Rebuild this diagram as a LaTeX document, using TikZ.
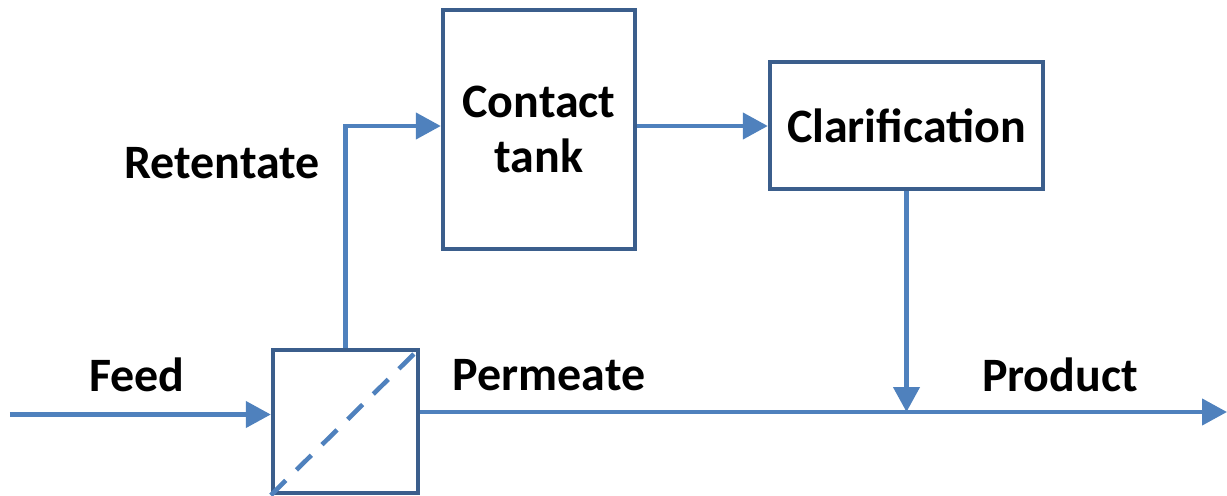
\documentclass[tikz,border=0pt]{standalone}
\usepackage{fontspec}
\setmainfont{Carlito}
\usepackage{tikz}
\usetikzlibrary{arrows.meta,positioning}

\definecolor{flowblue}{HTML}{4F81BD}
\definecolor{boxblue}{HTML}{3B5E8C}

\tikzset{
  unit/.style={draw=boxblue, line width=2.5pt, fill=white, align=center, inner sep=0pt},
  flow/.style={draw=flowblue, line width=2.5pt, -{Triangle[length=0.5cm,width=0.52cm]}},
  lbl/.style={font=\fontsize{27.3}{31}\selectfont\bfseries, align=center}
}

\begin{document}
\begin{tikzpicture}
\useasboundingbox (0,0) rectangle (24.54,-9.9);

% process units
\node[unit, minimum width=2.9cm, minimum height=2.86cm] (mem) at (6.91,-8.43) {};
\node[unit, minimum width=3.84cm, minimum height=4.78cm, lbl] (tank) at (10.78,-2.59) {Contact\\tank};
\node[unit, minimum width=5.46cm, minimum height=2.54cm, lbl] (clar) at (18.13,-2.51) {Clarification};

% membrane
\draw[flowblue, line width=2.6pt, dash pattern=on 0.42cm off 0.3cm] (mem.south west) -- (mem.north east);

% labels
\node[lbl] (feedlbl) at (2.74,-7.5) {Feed};
\node[lbl] (permlbl) at (10.98,-7.5) {Permeate};
\node[lbl] (prodlbl) at (21.2,-7.5) {Product};
\node[lbl] (retlbl) at (4.44,-3.26) {Retentate};

\coordinate (feedin) at (0.2,-8.29);
\coordinate (prodout) at (24.54,-8.24);
\coordinate (mix) at (clar.south |- prodout);
\coordinate (retup) at (mem.north |- 0,-2.52);

% Connectors
\draw[flow] (feedin) -- (mem.west |- feedin);
\draw[flow] (mem.east |- prodout) -- (prodout);
\draw[flow] (mem.north) -- (retup) -- (tank.west |- retup);
\draw[flow] (tank.east |- retup) -- (clar.west |- retup);
\draw[flow] (clar.south) -- (mix);
\end{tikzpicture}
\end{document}
